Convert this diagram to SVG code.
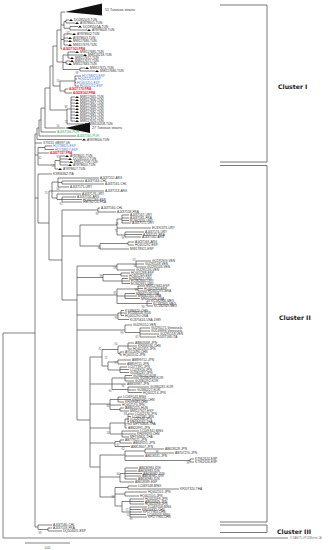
<svg xmlns="http://www.w3.org/2000/svg" width="328" height="550" viewBox="0 0 328 550">
<style>
.ln{fill:none;stroke:#4a4a4a;stroke-width:0.7}
.bk{fill:none;stroke:#555;stroke-width:0.8}
text{font-family:"Liberation Sans",Arial,sans-serif;font-size:3.2px;fill:#333;dominant-baseline:central}
.r{fill:#e3211c;font-weight:bold}
.b{fill:#4b7bd4}
.g{fill:#2aa846}
.bs{font-size:2.6px;fill:#555;text-anchor:middle}
.cl{font-family:"DejaVu Sans",Verdana,sans-serif;font-size:6.2px;font-weight:bold;fill:#222}
.big{font-size:3.6px}
</style>
<defs><path id="tri" d="M0,0.9 L2,-1.1 L4,0.9 Z" fill="#111"/></defs>
<rect width="328" height="550" fill="#fff"/>
<g id="connectors">
<path class="ln" d="M61,12H65 M61,12V49 M61,25H64 M64,21.5V28.25 M64,21.5H66 M66,20V23 M66,20H69 M66,23H75 M64,28.25H70 M70,26.5V30 M70,26.5H78 M70,30H87 M61,39.5H64 M64,34V45 M64,34H72 M64,38H68 M64,41H68 M64,45H68 M61,49H62
M57,30H61 M57,30V62 M57,62H63 M63,55V69.5 M63,55H68 M68,52V58 M68,52H75 M68,55H83 M68,58H70 M63,62.5H66 M66,61V64 M66,61H70 M66,64H68 M63,69.5H80 M80,68V71 M80,68H85 M80,71H95
M53,46V86 M53,46H57 M53,86H60 M60,81V91 M60,81H75 M75,76V86 M75,76H81 M75,79H77 M75,82.5H76 M75,86H79 M60,91H65 M65,89V93 M65,89H68 M65,93H72
M50,66V110 M50,66H53 M50,110H67 M67,109V124 M67,109H71 M71,97V121 M71,97H75 M71,100H75 M71,103H75 M71,106H75 M71,109H75 M71,112H75 M71,115H75 M71,118H75 M71,121H75 M67,124H84
M45,88V128 M45,88H50 M45,128H65 M41,108V132 M41,108H45 M41,132H56 M39,120V136 M39,120H41 M39,136H76 M37,128V139.5 M37,128H39 M37,139.5H82
M35,134V527 M35,134H37 M35,143H42 M35,155H38 M38,147.5V165 M38,147.5H45 M45,146V149.5 M45,146H52 M45,149.5H54 M38,153H49 M38,165H55 M55,160.5V169 M55,160.5H60 M60,156V165 M60,156H65 M60,159H68 M60,162H69 M60,165H68 M55,169H58"/>
<path class="ln" d="M35,198H38 M38,174V223 M38,174H52 M38,223H49 M49,191V260
M49,191H52 M52,182V198 M52,182H58 M58,178V187 M58,178H99 M58,182.5H62 M62,181V184 M62,181H84 M62,184H104 M58,187H69 M52,191H104 M52,198H57 M57,194V199.5 M57,194H81 M57,199.5H62 M62,197V202 M62,197H76 M62,199.5H82 M62,202H82
M49,260H62 M62,210V300 M62,210H98 M98,208V212 M98,208H100 M98,212H116
M62,236H80 M80,225V246 M80,225H117 M117,219V235 M117,219H122 M122,215V223 M122,215H129 M122,218H129 M122,220.5H129 M122,223H131 M117,228H151 M117,235H125 M125,232V237 M125,232H144 M125,234.5H142 M125,237H141 M80,246H100 M100,243.5V249 M100,243.5H128 M128,242V245 M128,242H134 M128,245H134 M100,249H129
M62,300H77 M77,266V420
M77,266H117 M117,264V270 M117,264H136 M136,261V267 M136,261H151 M136,264H144 M136,267H146 M117,270H135
M77,277.5H103 M103,274.5V281 M103,274.5H121 M121,273V276 M121,273H130 M121,276H128 M103,281H122 M122,278.5V283.5 M122,278.5H128 M122,281H130 M122,283.5H130
M77,295H117 M117,289V303.5 M117,289H138 M138,286V291 M138,286H145 M138,288.5H143 M138,291H147 M117,296H125 M125,293.5V298.5 M125,293.5H135 M125,296H137 M125,298.5H140 M117,303.5H147 M147,301V306 M147,301H150 M147,303.5H152 M147,306H153
M77,315H118 M118,313V319.5 M118,313H121 M121,310.5V315.5 M121,310.5H124 M121,313H127 M121,315.5H124 M118,319.5H129
M77,330H125 M125,325V332.5 M125,325H132 M125,332.5H140 M140,328V337 M140,328H150 M140,331H150 M140,334H159 M140,337H156"/>
<path class="ln" d="M77,420H90 M90,357V467
M90,357H102 M102,349.5V366 M102,349.5H118 M118,346V353.5 M118,346H128 M128,343V349 M128,343H134 M128,346H137 M128,349H132 M118,353.5H120 M120,352V355 M120,352H124 M120,355H122 M102,366H108 M108,362V370 M108,362H118 M118,360V364 M118,360H131 M118,364H126 M108,370H120 M120,367V372.5 M120,367H127 M120,369.5H129 M120,372.5H129
M90,384H112 M112,378V389.5 M112,378H125 M125,375.5V381 M125,375.5H132 M125,378H139 M125,381H134 M112,384H126 M112,389.5H128 M128,387V392.5 M128,387H149 M128,390H136 M128,392.5H142
M90,404H110 M110,399.5V409.5 M110,399.5H118 M118,397V402 M118,397H122 M118,399.5H131 M118,402H124 M110,405H121 M110,409.5H120 M120,408V411 M120,408H124 M120,411H129
M90,428H110 M110,423V434 M110,423H125 M125,419V428 M125,419H128 M128,414V424 M128,414H134 M128,416.5H131 M128,419H129 M128,421.5H129 M128,424H132 M125,428H127 M110,434H122 M122,431V437 M122,431H139 M122,434H136 M122,437H129
M90,443H115 M115,441.5V446.5 M115,441.5H120 M120,440V443 M120,440H124 M120,443H132 M115,446.5H130
M90,467H100 M100,455V497 M100,455H125 M125,451V460.5 M125,451H145 M145,449V453 M145,449H164 M145,453H174 M125,456H144 M125,460.5H190 M190,459V462 M190,459H194 M190,462H194
M100,477H120 M120,473.5V482 M120,473.5H125 M125,468V479 M125,468H138 M125,471H137 M125,473.5H142 M125,476H141 M125,479H137 M120,482H134
M100,497H115 M115,487.5V506 M115,487.5H128 M128,486V489 M128,486H137 M128,489H179 M115,494H125 M125,492V496 M125,492H147 M125,496H139 M115,506H122 M122,501.5V512 M122,501.5H130 M130,499V504 M130,499H144 M130,501.5H144 M130,504H144 M122,512H130 M130,507V517 M130,507H147 M130,509.5H141 M130,512H142 M130,514.5H146 M130,517H147"/>
<path class="ln" d="M35,527H38 M38,525V529.5 M38,525H52 M38,529.5H48 M48,528V531 M48,528H52 M48,531H62 M3,333V538 M3,333H35 M3,538H288 M25,543H70"/>
</g>
<g id="collapsed">
<polygon points="65,12 102,3.5 102,15.5" fill="#111"/>
<polygon points="65,128 90,122.5 90,133" fill="#111"/>
<text class="big" x="105" y="10">51 Tunisian strains</text>
<text class="big" x="92" y="128">27 Tunisian strains</text>
</g>
<g id="markers">
<use href="#tri" x="69" y="20"/><use href="#tri" x="75" y="23"/><use href="#tri" x="78" y="26.5"/><use href="#tri" x="87" y="30"/><use href="#tri" x="72" y="34"/><use href="#tri" x="68" y="38"/><use href="#tri" x="68" y="41"/><use href="#tri" x="68" y="45"/>
<use href="#tri" x="75" y="52"/><use href="#tri" x="83" y="55"/><use href="#tri" x="70" y="58"/><use href="#tri" x="70" y="61"/><use href="#tri" x="68" y="64"/><use href="#tri" x="85" y="68"/><use href="#tri" x="95" y="71"/>
<use href="#tri" x="75" y="97"/><use href="#tri" x="75" y="100"/><use href="#tri" x="75" y="103"/><use href="#tri" x="75" y="106"/><use href="#tri" x="75" y="109"/><use href="#tri" x="75" y="112"/><use href="#tri" x="75" y="115"/><use href="#tri" x="75" y="118"/><use href="#tri" x="75" y="121"/><use href="#tri" x="84" y="124"/>
<use href="#tri" x="82" y="139.5"/><use href="#tri" x="65" y="156"/><use href="#tri" x="68" y="159"/><use href="#tri" x="69" y="162"/><use href="#tri" x="68" y="165"/><use href="#tri" x="58" y="169"/>
</g>
<g id="cluster1-leaves">
<text x="74" y="20">DQ285503-TUN</text><text x="80" y="23">AY878605-TUN</text><text x="83" y="26.5">DQ285505A-TUN</text><text x="92" y="30">AY878608-TUN</text>
<text x="77" y="34">AY878602-TUN</text><text x="73" y="38">AY878603-TUN</text><text x="73" y="41">MW117680-TUN</text><text x="73" y="45">MW117679-TUN</text>
<text class="r" x="63" y="49">AJ437163-FRA</text>
<text x="80" y="52">MW117685-TUN</text><text x="88" y="55">MW116218-TUN</text><text x="75" y="58">MW117672-TUN</text><text x="75" y="61">MW117671-TUN</text><text x="73" y="64">MW117683-TUN</text><text x="90" y="68">MW117675-TUN</text><text x="100" y="71">MW117686-TUN</text>
<text class="b" x="82" y="76">HQ738820-ESP</text><text class="b" x="78" y="79">HQ401254-ESP</text><text class="b" x="77" y="82.5">HQ401251-ESP</text><text class="b" x="80" y="86">HQ401252-ESP</text>
<text class="r" x="69" y="89">AJ437170-FRA</text><text class="r" x="73" y="93">AJ438162-FRA</text>
<text x="80" y="97">MW117665-TUN</text><text x="80" y="100">MW117666-TUN</text><text x="80" y="103">MW117667-TUN</text><text x="80" y="106">MW117668-TUN</text><text x="80" y="109">MW117669-TUN</text><text x="80" y="112">MW117682-TUN</text><text x="80" y="115">MW117681-TUN</text><text x="80" y="118">MW117673-TUN</text><text x="80" y="121">MW117670-TUN</text><text x="89" y="124">MW116208-TUN</text>
<text class="g" x="57" y="132">AJ437166-POR</text><text class="g" x="77" y="136">AJ437165-POR</text>
<text x="87" y="139.5">AY878606-TUN</text><text x="43" y="143">X79215 GB997 UK</text>
<text class="b" x="53" y="146">HQ738825-ESP</text><text class="b" x="55" y="149.5">HQ738827-ESP</text><text class="r" x="50" y="153">AJ437157-FRA</text>
<text x="70" y="156">AY878601-TUN</text><text x="73" y="159">DQ285510-TUN</text><text x="74" y="162">MW117708-TUN</text><text x="73" y="165">AY878600-TUN</text><text x="63" y="169">AY878607-TUN</text>
</g>
<g id="cluster2-leaves">
<text x="53" y="174">KX896362-ITA</text>
<text x="100" y="178">AJ437152-ARG</text><text x="85" y="181">AJ437164-CHL</text><text x="105" y="184">AJ437161-CHL</text><text x="70" y="187">AJ437175-URY</text><text x="105" y="191">AJ437153-ARG</text><text x="82" y="194">AJ437176-URY</text><text x="77" y="197">AJ437156-ARG</text><text x="83" y="199.5">HQ401286-ESP</text><text x="83" y="202">HM780724-FRA</text>
<text x="101" y="208">AJ437160-CHL</text><text x="117" y="212">AJ437158-FRA</text>
<text x="130" y="215">AJ437167-URY</text><text x="130" y="218">AJ437181-FRA</text><text x="130" y="220.5">EU362659-URY</text><text x="132" y="223">AJ437172-URY</text><text x="152" y="228">EU191373-URY</text><text x="145" y="232">AJ437174-URY</text><text x="143" y="234.5">AJ437171-FRA</text><text x="142" y="237">AJ437182-ARG</text>
<text x="135" y="242">AJ437169-ARG</text><text x="135" y="245">HQ401292-ESP</text><text x="130" y="249">MW178921-ESP</text>
<text x="152" y="261">GU195909-VEN</text><text x="145" y="264">GU295148-VEN</text><text x="147" y="267">GU295146-VEN</text><text x="136" y="270">GU295136-VEN</text>
<text x="131" y="273">HQ401288-ESP</text><text x="129" y="276">HQ401289-ESP</text><text x="129" y="278.5">EU362657-URY</text><text x="131" y="281">EU362660-URY</text><text x="131" y="283.5">EU362661-URY</text>
<text x="146" y="286">MW117682-ESP</text><text x="144" y="288.5">HQ401283-ESP</text><text x="148" y="291">HQ401291-BRA</text><text x="136" y="293.5">MN062149-USA</text><text x="138" y="296">MN062165-USA</text><text x="141" y="298.5">MN062164-USA</text><text x="151" y="301">KC182966-MEX</text><text x="153" y="303.5">KC182965-MEX</text><text x="154" y="306">KC182949-MEX</text>
<text x="125" y="310.5">KY486620-CHN</text><text x="128" y="313">EU266106-RUS</text><text x="125" y="315.5">HQ401290-USA</text><text x="130" y="319.5">KC875624-USA-1989</text>
<text x="133" y="325">GU295152-VEN</text><text x="151" y="328">GU295171-Venezuela</text><text x="151" y="331">GU149898-Venezuela</text><text x="160" y="334">GU295158-VEN</text><text x="157" y="337">HJ437168-ITA</text>
<text x="135" y="343">AB803568-JPN</text><text x="138" y="346">KF458036-CHN</text><text x="133" y="349">HQ401355-JPN</text><text x="125" y="352">AY512096-CHN</text><text x="123" y="355">HQ401102-JPN</text>
<text x="132" y="360">AB899712-JPN</text><text x="127" y="364">AB859711-JPN</text><text x="128" y="367">LC077391-JPN</text><text x="130" y="369.5">LC078916-JPN</text><text x="130" y="372.5">GU380287-JPN</text>
<text x="133" y="375.5">GU380242-KOR</text><text x="140" y="378">GU380288-KOR</text><text x="135" y="381">GU380292-KOR</text><text x="127" y="384">AB833987-JPN</text><text x="150" y="387">GU380281-KOR</text><text x="137" y="390">GU380227-KOR</text><text x="143" y="392.5">HQ402214-JPN</text>
<text x="123" y="397">LC069543-MNG</text><text x="132" y="399.5">KF699681-CHN</text><text x="125" y="402">KF699683-CHN</text><text x="122" y="405">HQ402170-JPN</text><text x="125" y="408">AB862025-HUN</text><text x="130" y="411">MW117927-ESP</text>
<text x="135" y="414">LC042576-JPN</text><text x="132" y="416.5">LC042581-JPN</text><text x="130" y="419">LC026948-JPN</text><text x="130" y="421.5">MF784592-THA</text><text x="133" y="424">MF794808-THA</text><text x="128" y="428">AB820991-JPN</text><text x="140" y="431">LC049341-MNG</text><text x="137" y="434">KF699693-CHN</text><text x="130" y="437">MF794805-THA</text>
<text x="125" y="440">AB779521-JPN</text><text x="133" y="443">AB649251-JPN</text><text x="131" y="446.5">AB813607-JPN</text>
<text x="165" y="449">AB618528-JPN</text><text x="175" y="453">AB707270-JPN</text><text x="145" y="456">AB618531-JPN</text><text x="195" y="459">KT962624-ESP</text><text x="195" y="462">KT962626-ESP</text>
<text x="139" y="468">AB636984-IDN</text><text x="138" y="471">AB636983-IDN</text><text x="143" y="473.5">AB636982-IDN</text><text x="142" y="476">AB636981-IDN</text><text x="138" y="479">AB636980-IDN</text><text x="135" y="482">AB618589-ESP</text>
<text x="138" y="486">LC069548-MNG</text><text x="180" y="489">KF207320-THA</text><text x="148" y="492">HQ402101-JPN</text><text x="140" y="496">HQ402105-JPN</text><text x="145" y="499">HQ402099-JPN</text><text x="145" y="501.5">AB040809-JPN</text><text x="145" y="504">HQ402098-JPN</text>
<text x="148" y="507">LC069558-MNG</text><text x="142" y="509.5">KF056832-CHN</text><text x="143" y="512">KF177963-CHN</text><text x="147" y="514.5">LC069556-MNG</text><text x="148" y="517">KF177964-CHN</text>
</g>
<g id="cluster3-leaves">
<text x="53" y="525">AJ437180-CHL</text><text x="53" y="528">AJ437159-FRA</text><text x="63" y="531">DQ504431-ESP</text>
<text x="290" y="538" style="fill:#777;font-size:2.8px">V-SAM75-LP13/Berne 1A</text>
</g>
<g id="bootstrap">
<text class="bs" x="68" y="33">92</text><text class="bs" x="77" y="73.5">98</text><text class="bs" x="58" y="81">53</text><text class="bs" x="66" y="107">98</text><text class="bs" x="66" y="122.5">72</text><text class="bs" x="58" y="126.5">50</text><text class="bs" x="40" y="158.5">62</text><text class="bs" x="58" y="157.5">97</text><text class="bs" x="53" y="166">53</text>
<text class="bs" x="46" y="193">74</text><text class="bs" x="58" y="189.5">60</text><text class="bs" x="61" y="204">91</text><text class="bs" x="97" y="214.5">99</text><text class="bs" x="117" y="224.5">58</text><text class="bs" x="116" y="231">71</text><text class="bs" x="123" y="238.5">99</text><text class="bs" x="99" y="248.5">90</text>
<text class="bs" x="134" y="260">53</text><text class="bs" x="135" y="266.5">57</text><text class="bs" x="115" y="268.5">99</text><text class="bs" x="101" y="276">99</text><text class="bs" x="115" y="293">85</text><text class="bs" x="136" y="290">99</text><text class="bs" x="143" y="307.5">99</text><text class="bs" x="116" y="318">99</text><text class="bs" x="122" y="333">99</text><text class="bs" x="137" y="337">61</text>
<text class="bs" x="116" y="344.5">64</text><text class="bs" x="100" y="349">81</text><text class="bs" x="106" y="358">72</text><text class="bs" x="116" y="363">97</text><text class="bs" x="123" y="386">94</text><text class="bs" x="110" y="391">90</text><text class="bs" x="108" y="406">84</text><text class="bs" x="125.5" y="414.5">88</text><text class="bs" x="126" y="425.5">71</text><text class="bs" x="108" y="433">53</text><text class="bs" x="118" y="445">97</text>
<text class="bs" x="123" y="449.5">62</text><text class="bs" x="157" y="452">98</text><text class="bs" x="188" y="463.5">99</text><text class="bs" x="118" y="474">64</text><text class="bs" x="113" y="497.5">98</text><text class="bs" x="127" y="510">71</text><text class="bs" x="128" y="515.5">53</text><text class="bs" x="131" y="519.5">99</text><text class="bs" x="40" y="533">99</text>
</g>
<g id="clusters">
<path class="bk" d="M220,5H267V162H220 M220,165.5H267V522H220 M220,525H267V532.5H220"/>
<text class="cl" x="278" y="86">Cluster I</text>
<text class="cl" x="279" y="317">Cluster II</text>
<text class="cl" x="277" y="531">Cluster III</text>
</g>
<g id="scale">
<text x="47.5" y="548" style="text-anchor:middle;font-size:2.8px">0.02</text>
</g>
</svg>
